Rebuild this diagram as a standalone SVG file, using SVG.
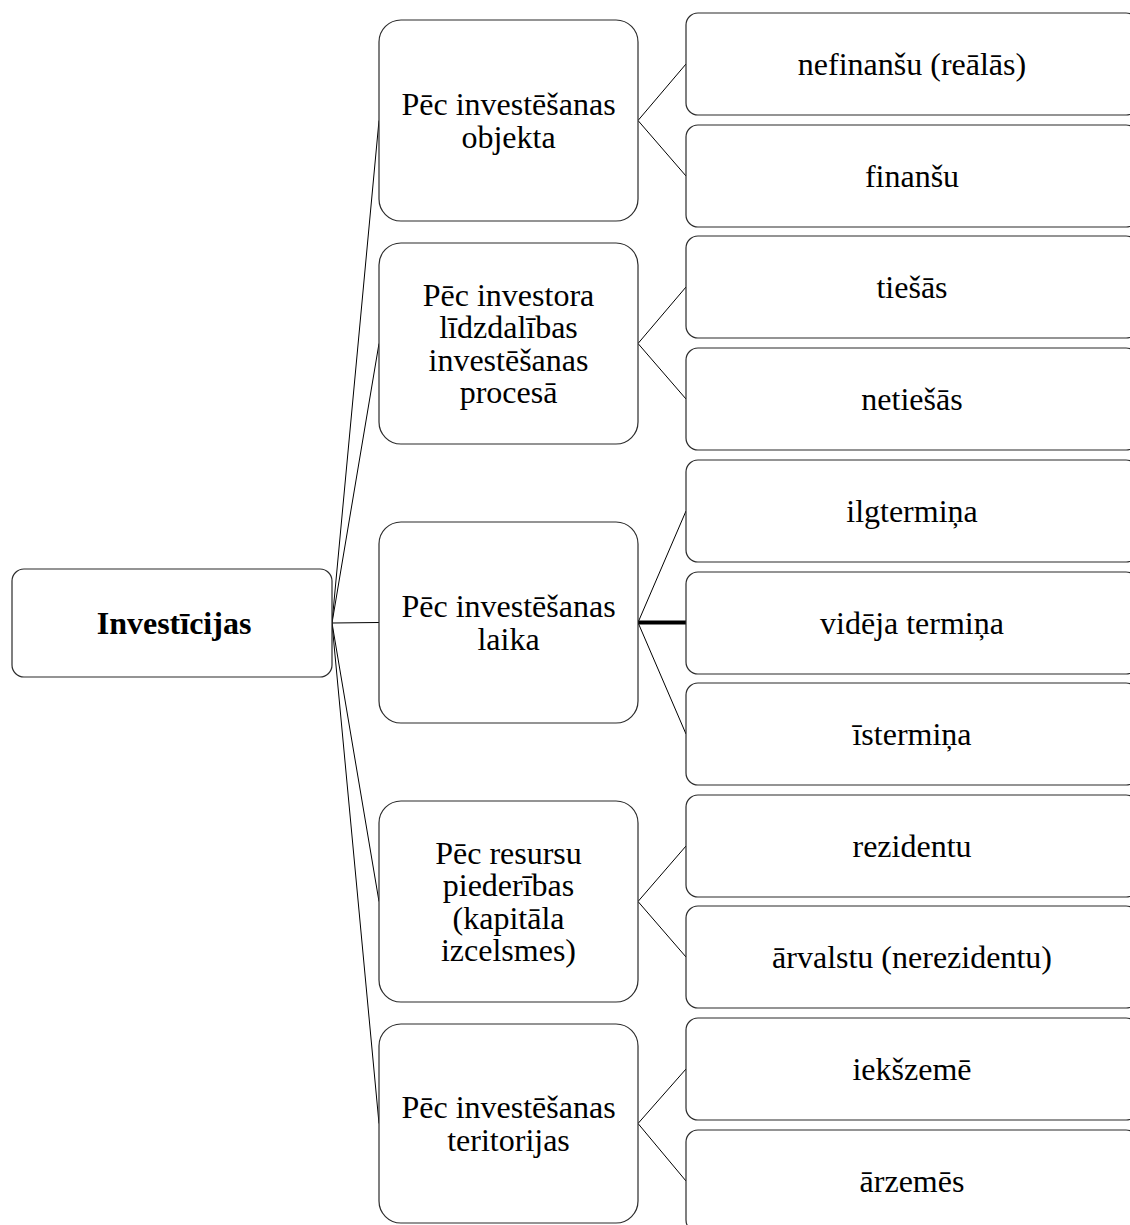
<svg xmlns="http://www.w3.org/2000/svg" width="1130" height="1225" viewBox="0 0 1130 1225">
<style>
.box{fill:#fff;stroke:#2b2b2b;stroke-width:1.2}
.t{font-family:"Liberation Serif","Times New Roman",serif;font-size:32px;fill:#000;text-anchor:middle}
.b{font-weight:bold}
.c{stroke:#000;stroke-width:1;fill:none}
.thick{stroke:#000;stroke-width:4;fill:none}
</style>
<rect width="1130" height="1225" fill="#fff"/>
<g id="connectors">
<line class="c" x1="332" y1="623" x2="379" y2="120.5"/>
<line class="c" x1="332" y1="623" x2="379" y2="343.5"/>
<line class="c" x1="332" y1="623" x2="379" y2="622.5"/>
<line class="c" x1="332" y1="623" x2="379" y2="901.5"/>
<line class="c" x1="332" y1="623" x2="379" y2="1123.5"/>
<line class="c" x1="638" y1="120.5" x2="686" y2="64"/>
<line class="c" x1="638" y1="120.5" x2="686" y2="176"/>
<line class="c" x1="638" y1="343.5" x2="686" y2="287"/>
<line class="c" x1="638" y1="343.5" x2="686" y2="399"/>
<line class="c" x1="638" y1="622.5" x2="686" y2="511"/>
<line class="thick" x1="638" y1="622.5" x2="686" y2="622.5"/>
<line class="c" x1="638" y1="622.5" x2="686" y2="734"/>
<line class="c" x1="638" y1="901.5" x2="686" y2="846"/>
<line class="c" x1="638" y1="901.5" x2="686" y2="957"/>
<line class="c" x1="638" y1="1123.5" x2="686" y2="1069"/>
<line class="c" x1="638" y1="1123.5" x2="686" y2="1181"/>
</g>
<g id="root">
<rect class="box" x="12" y="569" width="320" height="108" rx="12"/>
<text class="t b" x="174" y="634">Investīcijas</text>
</g>
<g id="m1">
<rect class="box" x="379" y="20" width="259" height="201" rx="22"/>
<text class="t" x="508.5" y="115.25">Pēc investēšanas</text>
<text class="t" x="508.5" y="147.75">objekta</text>
</g>
<g id="m2">
<rect class="box" x="379" y="243" width="259" height="201" rx="22"/>
<text class="t" x="508.5" y="305.75">Pēc investora</text>
<text class="t" x="508.5" y="338.25">līdzdalības</text>
<text class="t" x="508.5" y="370.75">investēšanas</text>
<text class="t" x="508.5" y="403.25">procesā</text>
</g>
<g id="m3">
<rect class="box" x="379" y="522" width="259" height="201" rx="22"/>
<text class="t" x="508.5" y="617.25">Pēc investēšanas</text>
<text class="t" x="508.5" y="649.75">laika</text>
</g>
<g id="m4">
<rect class="box" x="379" y="801" width="259" height="201" rx="22"/>
<text class="t" x="508.5" y="863.75">Pēc resursu</text>
<text class="t" x="508.5" y="896.25">piederības</text>
<text class="t" x="508.5" y="928.75">(kapitāla</text>
<text class="t" x="508.5" y="961.25">izcelsmes)</text>
</g>
<g id="m5">
<rect class="box" x="379" y="1024" width="259" height="199" rx="22"/>
<text class="t" x="508.5" y="1118.25">Pēc investēšanas</text>
<text class="t" x="508.5" y="1150.75">teritorijas</text>
</g>
<g id="r1"><rect class="box" x="686" y="13" width="452" height="102" rx="12"/><text class="t" x="912" y="75">nefinanšu (reālās)</text></g>
<g id="r2"><rect class="box" x="686" y="125" width="452" height="102" rx="12"/><text class="t" x="912" y="187">finanšu</text></g>
<g id="r3"><rect class="box" x="686" y="236" width="452" height="102" rx="12"/><text class="t" x="912" y="298">tiešās</text></g>
<g id="r4"><rect class="box" x="686" y="348" width="452" height="102" rx="12"/><text class="t" x="912" y="410">netiešās</text></g>
<g id="r5"><rect class="box" x="686" y="460" width="452" height="102" rx="12"/><text class="t" x="912" y="522">ilgtermiņa</text></g>
<g id="r6"><rect class="box" x="686" y="572" width="452" height="102" rx="12"/><text class="t" x="912" y="634">vidēja termiņa</text></g>
<g id="r7"><rect class="box" x="686" y="683" width="452" height="102" rx="12"/><text class="t" x="912" y="745">īstermiņa</text></g>
<g id="r8"><rect class="box" x="686" y="795" width="452" height="102" rx="12"/><text class="t" x="912" y="857">rezidentu</text></g>
<g id="r9"><rect class="box" x="686" y="906" width="452" height="102" rx="12"/><text class="t" x="912" y="968">ārvalstu (nerezidentu)</text></g>
<g id="r10"><rect class="box" x="686" y="1018" width="452" height="102" rx="12"/><text class="t" x="912" y="1080">iekšzemē</text></g>
<g id="r11"><rect class="box" x="686" y="1130" width="452" height="102" rx="12"/><text class="t" x="912" y="1192">ārzemēs</text></g>
</svg>
